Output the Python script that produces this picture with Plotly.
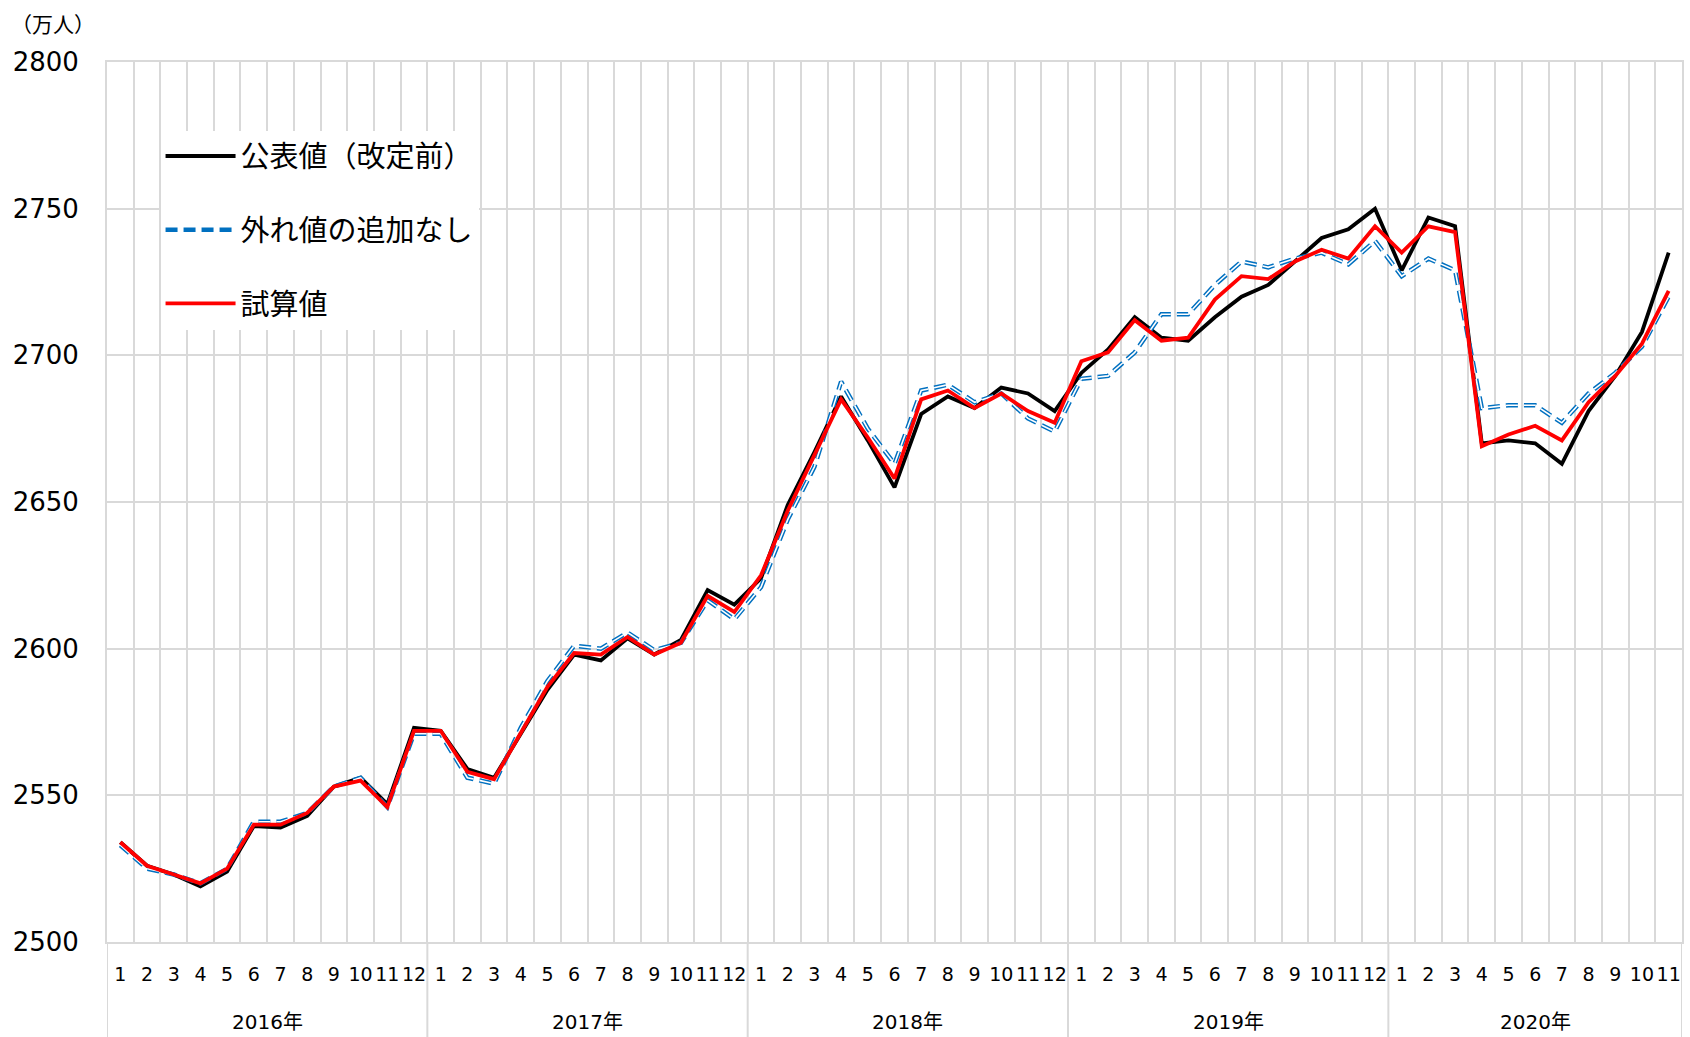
import plotly.graph_objects as go
import numpy as np

# ---------------- data ----------------
years = ["2016年", "2017年", "2018年", "2019年", "2020年"]
months_per_year = [12, 12, 12, 12, 11]

# 公表値（改定前）
published = [
    2534, 2526, 2523, 2519, 2524, 2539.5, 2539, 2543, 2553, 2556, 2547, 2573,
    2572, 2559, 2556, 2571, 2586, 2598, 2596, 2603.5, 2598, 2603, 2620, 2615,
    2624, 2649, 2667, 2686, 2671, 2655, 2680, 2686, 2682, 2689, 2687, 2681,
    2694, 2702, 2713, 2706, 2705, 2713, 2720, 2724, 2732, 2740, 2743, 2750,
    2729, 2747, 2744, 2670, 2671, 2670, 2663, 2681, 2693, 2708, 2735,
]
# 外れ値の追加なし
no_outlier = [
    2533, 2525, 2523, 2520, 2525, 2541, 2541, 2544, 2553, 2556, 2546, 2571,
    2571, 2556, 2554, 2573, 2589, 2601, 2600, 2605.5, 2599.5, 2602, 2616.5, 2610,
    2621, 2644, 2662, 2691, 2675, 2663, 2688, 2690, 2684, 2687, 2678.5, 2674,
    2692, 2693, 2701, 2714, 2714, 2724, 2732, 2730, 2733, 2735, 2731, 2739,
    2727, 2733, 2729, 2682, 2683, 2683, 2677, 2687, 2694, 2703, 2720,
]
# 試算値
estimate = [
    2534, 2526, 2523, 2520, 2525, 2540, 2540, 2544, 2553, 2555, 2546, 2572,
    2572, 2558, 2555.5, 2571, 2587, 2598.5, 2598, 2604, 2598, 2602, 2618, 2612.5,
    2625, 2647, 2666, 2685, 2672, 2658, 2685, 2688, 2682, 2687, 2681, 2677,
    2698, 2701, 2712, 2705, 2706, 2719, 2727, 2726, 2732, 2736, 2733, 2744,
    2735, 2744, 2742, 2669, 2673, 2676, 2671, 2684, 2693, 2704, 2722,
]

series_names = ["公表値（改定前）", "外れ値の追加なし", "試算値"]
y_ticks = [2500, 2550, 2600, 2650, 2700, 2750, 2800]
unit_label = "（万人）"

# ---------------- derived ----------------
month_labels = []
for n in months_per_year:
    month_labels += [str(m) for m in range(1, n + 1)]
x = list(range(len(month_labels)))
bounds = np.concatenate([[0], np.cumsum(months_per_year)]) - 0.5
year_centers = [(bounds[i] + bounds[i + 1]) / 2 for i in range(len(years))]

GRID = "#d9d9d9"
JP = "Noto Sans CJK JP"
NUM = "DejaVu Sans, Noto Sans CJK JP"

fig = go.Figure()
fig.add_trace(go.Scatter(x=x, y=published, mode="lines", name=series_names[0],
                         legendgroup="a", line=dict(color="#000000", width=3.8)))
fig.add_trace(go.Scatter(x=x, y=no_outlier, mode="lines", name=series_names[1],
                         legendgroup="b",
                         line=dict(color="#0070C0", width=4.5, dash="12px,6px")))
fig.add_trace(go.Scatter(x=x, y=no_outlier, mode="lines", showlegend=False,
                         legendgroup="b", hoverinfo="skip",
                         line=dict(color="#ffffff", width=1.6, dash="12px,6px")))
fig.add_trace(go.Scatter(x=x, y=estimate, mode="lines", name=series_names[2],
                         legendgroup="c", line=dict(color="#FF0000", width=3.8)))

shapes = []
for b in bounds:
    shapes.append(dict(type="line", xref="x", yref="paper", x0=b, x1=b,
                       y0=0, y1=-0.12, line=dict(color=GRID, width=2)))

annotations = []
for yr, c in zip(years, year_centers):
    annotations.append(dict(text=yr, x=c, xref="x", y=-0.0907, yref="paper",
                            showarrow=False, xanchor="center", yanchor="middle",
                            font=dict(family=NUM, size=20, color="#000")))
annotations.append(dict(text=unit_label, x=-0.0625, xref="paper", y=1.0443,
                        yref="paper", showarrow=False, xanchor="left",
                        yanchor="middle", font=dict(family=JP, size=21, color="#000")))

fig.update_layout(
    width=1690, height=1037,
    margin=dict(l=107, r=6, t=62, b=95),
    paper_bgcolor="white", plot_bgcolor="white",
    showlegend=True,
    legend=dict(x=0.034, y=0.922, xanchor="left", yanchor="top",
                bgcolor="white", borderwidth=0,
                font=dict(family=JP, size=29, color="#000"),
                itemwidth=70, tracegroupgap=33, traceorder="grouped"),
    shapes=shapes,
    annotations=annotations,
)
fig.update_xaxes(
    range=[-0.5, len(x) - 0.5], tickmode="array", tickvals=x, ticktext=month_labels,
    tickangle=0, showgrid=False, zeroline=False,
    ticks="outside", ticklen=14, tickcolor="rgba(0,0,0,0)",
    tickfont=dict(family=NUM, size=19, color="#000"),
    showline=True, linecolor=GRID, linewidth=2, mirror=True,
    minor=dict(tick0=-0.5, dtick=1, showgrid=True, gridcolor=GRID, gridwidth=2, ticks=""),
)
fig.update_yaxes(
    range=[2500, 2800], tickmode="array", tickvals=y_ticks,
    showgrid=True, gridcolor=GRID, gridwidth=2, zeroline=False,
    ticks="outside", ticklen=21, tickcolor="rgba(0,0,0,0)",
    tickfont=dict(family=NUM, size=26, color="#000"),
    showline=True, linecolor=GRID, linewidth=2, mirror=True,
)

fig.write_html("out.html")
